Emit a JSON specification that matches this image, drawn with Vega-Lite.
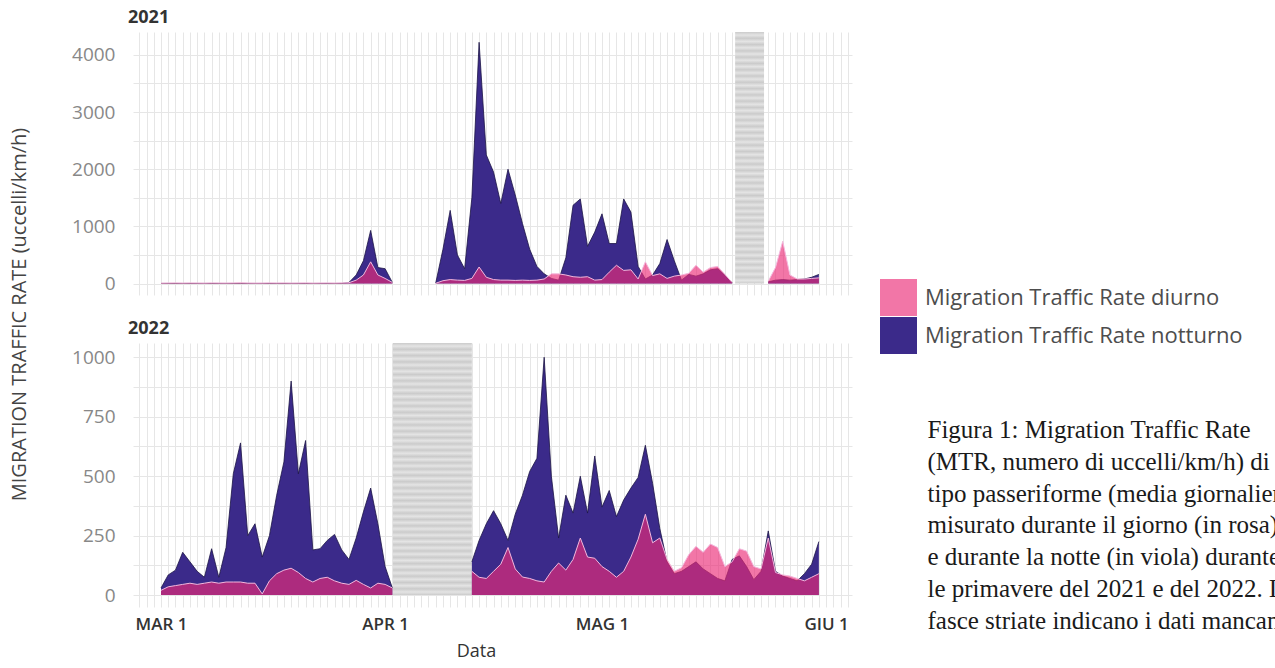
{
  "$schema": "https://vega.github.io/schema/vega-lite/v6.json",
  "padding": {"left": 9, "top": 9, "right": 0, "bottom": 0},
  "background": "white",
  "config": {
    "font": "Open Sans",
    "view": {"stroke": null},
    "axis": {"domain": false, "ticks": false, "gridColor": "#e6e6e6", "gridWidth": 1, "labelFont": "Open Sans", "titleFont": "Open Sans"}
  },
  "datasets": {
    "y2021": [
      {"data":"2021-03-01","notturno":2,"diurno":8},
      {"data":"2021-03-02","notturno":2,"diurno":10},
      {"data":"2021-03-03","notturno":2,"diurno":12},
      {"data":"2021-03-04","notturno":2,"diurno":9},
      {"data":"2021-03-05","notturno":2,"diurno":11},
      {"data":"2021-03-06","notturno":2,"diurno":10},
      {"data":"2021-03-07","notturno":2,"diurno":8},
      {"data":"2021-03-08","notturno":2,"diurno":12},
      {"data":"2021-03-09","notturno":2,"diurno":10},
      {"data":"2021-03-10","notturno":2,"diurno":9},
      {"data":"2021-03-11","notturno":2,"diurno":11},
      {"data":"2021-03-12","notturno":2,"diurno":13},
      {"data":"2021-03-13","notturno":2,"diurno":10},
      {"data":"2021-03-14","notturno":2,"diurno":8},
      {"data":"2021-03-15","notturno":2,"diurno":9},
      {"data":"2021-03-16","notturno":2,"diurno":12},
      {"data":"2021-03-17","notturno":2,"diurno":10},
      {"data":"2021-03-18","notturno":2,"diurno":11},
      {"data":"2021-03-19","notturno":2,"diurno":9},
      {"data":"2021-03-20","notturno":2,"diurno":10},
      {"data":"2021-03-21","notturno":2,"diurno":12},
      {"data":"2021-03-22","notturno":2,"diurno":8},
      {"data":"2021-03-23","notturno":2,"diurno":10},
      {"data":"2021-03-24","notturno":2,"diurno":11},
      {"data":"2021-03-25","notturno":2,"diurno":9},
      {"data":"2021-03-26","notturno":3,"diurno":12},
      {"data":"2021-03-27","notturno":20,"diurno":15},
      {"data":"2021-03-28","notturno":150,"diurno":60},
      {"data":"2021-03-29","notturno":400,"diurno":150},
      {"data":"2021-03-30","notturno":930,"diurno":380},
      {"data":"2021-03-31","notturno":280,"diurno":150},
      {"data":"2021-04-01","notturno":260,"diurno":90},
      {"data":"2021-04-02","notturno":20,"diurno":20},
      {"data":"2021-04-03","notturno":null,"diurno":null},
      {"data":"2021-04-04","notturno":null,"diurno":null},
      {"data":"2021-04-05","notturno":null,"diurno":null},
      {"data":"2021-04-06","notturno":null,"diurno":null},
      {"data":"2021-04-07","notturno":null,"diurno":null},
      {"data":"2021-04-08","notturno":10,"diurno":5},
      {"data":"2021-04-09","notturno":600,"diurno":50},
      {"data":"2021-04-10","notturno":1280,"diurno":70},
      {"data":"2021-04-11","notturno":500,"diurno":60},
      {"data":"2021-04-12","notturno":260,"diurno":55},
      {"data":"2021-04-13","notturno":1500,"diurno":90},
      {"data":"2021-04-14","notturno":4220,"diurno":290},
      {"data":"2021-04-15","notturno":2250,"diurno":110},
      {"data":"2021-04-16","notturno":1950,"diurno":70},
      {"data":"2021-04-17","notturno":1400,"diurno":60},
      {"data":"2021-04-18","notturno":2000,"diurno":60},
      {"data":"2021-04-19","notturno":1550,"diurno":55},
      {"data":"2021-04-20","notturno":1050,"diurno":60},
      {"data":"2021-04-21","notturno":600,"diurno":55},
      {"data":"2021-04-22","notturno":300,"diurno":60},
      {"data":"2021-04-23","notturno":170,"diurno":80},
      {"data":"2021-04-24","notturno":90,"diurno":170},
      {"data":"2021-04-25","notturno":60,"diurno":170},
      {"data":"2021-04-26","notturno":450,"diurno":150},
      {"data":"2021-04-27","notturno":1370,"diurno":120},
      {"data":"2021-04-28","notturno":1480,"diurno":110},
      {"data":"2021-04-29","notturno":650,"diurno":120},
      {"data":"2021-04-30","notturno":900,"diurno":60},
      {"data":"2021-05-01","notturno":1220,"diurno":70},
      {"data":"2021-05-02","notturno":700,"diurno":200},
      {"data":"2021-05-03","notturno":700,"diurno":320},
      {"data":"2021-05-04","notturno":1480,"diurno":230},
      {"data":"2021-05-05","notturno":1250,"diurno":240},
      {"data":"2021-05-06","notturno":300,"diurno":80},
      {"data":"2021-05-07","notturno":80,"diurno":380},
      {"data":"2021-05-08","notturno":150,"diurno":140},
      {"data":"2021-05-09","notturno":350,"diurno":170},
      {"data":"2021-05-10","notturno":770,"diurno":90},
      {"data":"2021-05-11","notturno":400,"diurno":130},
      {"data":"2021-05-12","notturno":60,"diurno":150},
      {"data":"2021-05-13","notturno":160,"diurno":180},
      {"data":"2021-05-14","notturno":130,"diurno":320},
      {"data":"2021-05-15","notturno":170,"diurno":200},
      {"data":"2021-05-16","notturno":240,"diurno":280},
      {"data":"2021-05-17","notturno":260,"diurno":300},
      {"data":"2021-05-18","notturno":150,"diurno":160},
      {"data":"2021-05-19","notturno":20,"diurno":20},
      {"data":"2021-05-20","notturno":null,"diurno":null},
      {"data":"2021-05-21","notturno":null,"diurno":null},
      {"data":"2021-05-22","notturno":null,"diurno":null},
      {"data":"2021-05-23","notturno":null,"diurno":null},
      {"data":"2021-05-24","notturno":30,"diurno":40},
      {"data":"2021-05-25","notturno":60,"diurno":280},
      {"data":"2021-05-26","notturno":70,"diurno":740},
      {"data":"2021-05-27","notturno":60,"diurno":150},
      {"data":"2021-05-28","notturno":70,"diurno":80},
      {"data":"2021-05-29","notturno":80,"diurno":80},
      {"data":"2021-05-30","notturno":110,"diurno":90},
      {"data":"2021-05-31","notturno":160,"diurno":100}
    ],
    "y2022": [
      {"data":"2022-03-01","notturno":30,"diurno":20},
      {"data":"2022-03-02","notturno":85,"diurno":35},
      {"data":"2022-03-03","notturno":105,"diurno":40},
      {"data":"2022-03-04","notturno":180,"diurno":45},
      {"data":"2022-03-05","notturno":140,"diurno":50},
      {"data":"2022-03-06","notturno":100,"diurno":45},
      {"data":"2022-03-07","notturno":75,"diurno":50},
      {"data":"2022-03-08","notturno":195,"diurno":55},
      {"data":"2022-03-09","notturno":75,"diurno":50},
      {"data":"2022-03-10","notturno":200,"diurno":55},
      {"data":"2022-03-11","notturno":510,"diurno":55},
      {"data":"2022-03-12","notturno":640,"diurno":55},
      {"data":"2022-03-13","notturno":250,"diurno":50},
      {"data":"2022-03-14","notturno":300,"diurno":50},
      {"data":"2022-03-15","notturno":160,"diurno":5},
      {"data":"2022-03-16","notturno":250,"diurno":60},
      {"data":"2022-03-17","notturno":420,"diurno":90},
      {"data":"2022-03-18","notturno":560,"diurno":105},
      {"data":"2022-03-19","notturno":900,"diurno":113},
      {"data":"2022-03-20","notturno":510,"diurno":95},
      {"data":"2022-03-21","notturno":650,"diurno":70},
      {"data":"2022-03-22","notturno":190,"diurno":55},
      {"data":"2022-03-23","notturno":195,"diurno":70},
      {"data":"2022-03-24","notturno":230,"diurno":75},
      {"data":"2022-03-25","notturno":255,"diurno":60},
      {"data":"2022-03-26","notturno":190,"diurno":50},
      {"data":"2022-03-27","notturno":150,"diurno":45},
      {"data":"2022-03-28","notturno":240,"diurno":62},
      {"data":"2022-03-29","notturno":350,"diurno":45},
      {"data":"2022-03-30","notturno":450,"diurno":30},
      {"data":"2022-03-31","notturno":300,"diurno":50},
      {"data":"2022-04-01","notturno":120,"diurno":45},
      {"data":"2022-04-02","notturno":30,"diurno":30},
      {"data":"2022-04-03","notturno":null,"diurno":null},
      {"data":"2022-04-04","notturno":null,"diurno":null},
      {"data":"2022-04-05","notturno":null,"diurno":null},
      {"data":"2022-04-06","notturno":null,"diurno":null},
      {"data":"2022-04-07","notturno":null,"diurno":null},
      {"data":"2022-04-08","notturno":null,"diurno":null},
      {"data":"2022-04-09","notturno":null,"diurno":null},
      {"data":"2022-04-10","notturno":null,"diurno":null},
      {"data":"2022-04-11","notturno":null,"diurno":null},
      {"data":"2022-04-12","notturno":null,"diurno":null},
      {"data":"2022-04-13","notturno":140,"diurno":100},
      {"data":"2022-04-14","notturno":230,"diurno":75},
      {"data":"2022-04-15","notturno":300,"diurno":70},
      {"data":"2022-04-16","notturno":355,"diurno":100},
      {"data":"2022-04-17","notturno":300,"diurno":130},
      {"data":"2022-04-18","notturno":230,"diurno":200},
      {"data":"2022-04-19","notturno":340,"diurno":110},
      {"data":"2022-04-20","notturno":420,"diurno":76},
      {"data":"2022-04-21","notturno":520,"diurno":70},
      {"data":"2022-04-22","notturno":575,"diurno":60},
      {"data":"2022-04-23","notturno":1000,"diurno":55},
      {"data":"2022-04-24","notturno":500,"diurno":100},
      {"data":"2022-04-25","notturno":240,"diurno":135},
      {"data":"2022-04-26","notturno":420,"diurno":105},
      {"data":"2022-04-27","notturno":345,"diurno":150},
      {"data":"2022-04-28","notturno":500,"diurno":240},
      {"data":"2022-04-29","notturno":345,"diurno":160},
      {"data":"2022-04-30","notturno":585,"diurno":155},
      {"data":"2022-05-01","notturno":370,"diurno":120},
      {"data":"2022-05-02","notturno":440,"diurno":100},
      {"data":"2022-05-03","notturno":330,"diurno":75},
      {"data":"2022-05-04","notturno":400,"diurno":100},
      {"data":"2022-05-05","notturno":450,"diurno":160},
      {"data":"2022-05-06","notturno":495,"diurno":235},
      {"data":"2022-05-07","notturno":630,"diurno":340},
      {"data":"2022-05-08","notturno":470,"diurno":220},
      {"data":"2022-05-09","notturno":280,"diurno":240},
      {"data":"2022-05-10","notturno":140,"diurno":150},
      {"data":"2022-05-11","notturno":90,"diurno":100},
      {"data":"2022-05-12","notturno":100,"diurno":115},
      {"data":"2022-05-13","notturno":120,"diurno":170},
      {"data":"2022-05-14","notturno":140,"diurno":205},
      {"data":"2022-05-15","notturno":110,"diurno":180},
      {"data":"2022-05-16","notturno":90,"diurno":215},
      {"data":"2022-05-17","notturno":70,"diurno":200},
      {"data":"2022-05-18","notturno":60,"diurno":120},
      {"data":"2022-05-19","notturno":150,"diurno":140},
      {"data":"2022-05-20","notturno":165,"diurno":195},
      {"data":"2022-05-21","notturno":120,"diurno":185},
      {"data":"2022-05-22","notturno":65,"diurno":120},
      {"data":"2022-05-23","notturno":100,"diurno":110},
      {"data":"2022-05-24","notturno":270,"diurno":240},
      {"data":"2022-05-25","notturno":100,"diurno":95},
      {"data":"2022-05-26","notturno":80,"diurno":85},
      {"data":"2022-05-27","notturno":70,"diurno":80},
      {"data":"2022-05-28","notturno":60,"diurno":70},
      {"data":"2022-05-29","notturno":90,"diurno":60},
      {"data":"2022-05-30","notturno":130,"diurno":75},
      {"data":"2022-05-31","notturno":225,"diurno":90}
    ],
    "mancanti2021": [
      {"data":"2021-05-19T10:00:00Z","data_fine":"2021-05-23T10:00:00Z","mtr":0,"mtr_alto":4400}
    ],
    "mancanti2022": [
      {"data":"2022-04-02T02:00:00Z","data_fine":"2022-04-13T00:00:00Z","mtr":0,"mtr_alto":1060}
    ],
    "didascalia": [
      {"riga":1,"testo":"Figura 1: Migration Traffic Rate"},
      {"riga":2,"testo":"(MTR, numero di uccelli/km/h) di"},
      {"riga":3,"testo":"tipo passeriforme (media giornaliera)"},
      {"riga":4,"testo":"misurato durante il giorno (in rosa)"},
      {"riga":5,"testo":"e durante la notte (in viola) durante"},
      {"riga":6,"testo":"le primavere del 2021 e del 2022. Le"},
      {"riga":7,"testo":"fasce striate indicano i dati mancanti."}
    ]
  },
  "hconcat": [
    {
      "vconcat": [
        {
          "width": 719,
          "height": 263,
          "title": {"text": "2021", "anchor": "start", "frame": "group", "dx": -5, "offset": 5, "fontSize": 18, "fontWeight": "bold", "color": "#333333", "font": "Open Sans"},
          "encoding": {
            "x": {"field": "data", "type": "temporal",
              "scale": {"type": "utc", "domain": [{"year": 2021, "month": 2, "date": 25, "hours": 3, "utc": true}, {"year": 2021, "month": 6, "date": 4, "hours": 14, "utc": true}]},
              "axis": {"title": null, "labels": false, "grid": true, "tickCount": {"interval": "day", "step": 1}}},
            "y": {"field": "mtr", "type": "quantitative",
              "scale": {"domain": [-200, 4400], "nice": false, "zero": false},
              "axis": {"title": "MIGRATION TRAFFIC RATE (uccelli/km/h)", "titleX": -104, "titleY": 282, "titleFontSize": 20, "titleColor": "#444444", "titleFontWeight": 500, "values": [0, 500, 1000, 1500, 2000, 2500, 3000, 3500, 4000], "format": "d", "labelExpr": "datum.value % 1000 == 0 ? datum.label : ''", "labelFontSize": 19, "labelColor": "#888888", "labelPadding": 18, "grid": true}}
          },
          "layer": [
            {"data": {"name": "mancanti2021"}, "mark": {"type": "rect", "color": {"gradient": "linear", "x1": 0, "y1": 0, "x2": 0, "y2": 1, "stops": [
              {"offset": 0, "color": "#cbcbcb"}, {"offset": 0.0125, "color": "#e4e4e4"}, {"offset": 0.025, "color": "#cbcbcb"}, {"offset": 0.0375, "color": "#e4e4e4"}, {"offset": 0.05, "color": "#cbcbcb"}, {"offset": 0.0625, "color": "#e4e4e4"}, {"offset": 0.075, "color": "#cbcbcb"}, {"offset": 0.0875, "color": "#e4e4e4"}, {"offset": 0.1, "color": "#cbcbcb"}, {"offset": 0.1125, "color": "#e4e4e4"},
              {"offset": 0.125, "color": "#cbcbcb"}, {"offset": 0.1375, "color": "#e4e4e4"}, {"offset": 0.15, "color": "#cbcbcb"}, {"offset": 0.1625, "color": "#e4e4e4"}, {"offset": 0.175, "color": "#cbcbcb"}, {"offset": 0.1875, "color": "#e4e4e4"}, {"offset": 0.2, "color": "#cbcbcb"}, {"offset": 0.2125, "color": "#e4e4e4"}, {"offset": 0.225, "color": "#cbcbcb"}, {"offset": 0.2375, "color": "#e4e4e4"},
              {"offset": 0.25, "color": "#cbcbcb"}, {"offset": 0.2625, "color": "#e4e4e4"}, {"offset": 0.275, "color": "#cbcbcb"}, {"offset": 0.2875, "color": "#e4e4e4"}, {"offset": 0.3, "color": "#cbcbcb"}, {"offset": 0.3125, "color": "#e4e4e4"}, {"offset": 0.325, "color": "#cbcbcb"}, {"offset": 0.3375, "color": "#e4e4e4"}, {"offset": 0.35, "color": "#cbcbcb"}, {"offset": 0.3625, "color": "#e4e4e4"},
              {"offset": 0.375, "color": "#cbcbcb"}, {"offset": 0.3875, "color": "#e4e4e4"}, {"offset": 0.4, "color": "#cbcbcb"}, {"offset": 0.4125, "color": "#e4e4e4"}, {"offset": 0.425, "color": "#cbcbcb"}, {"offset": 0.4375, "color": "#e4e4e4"}, {"offset": 0.45, "color": "#cbcbcb"}, {"offset": 0.4625, "color": "#e4e4e4"}, {"offset": 0.475, "color": "#cbcbcb"}, {"offset": 0.4875, "color": "#e4e4e4"},
              {"offset": 0.5, "color": "#cbcbcb"}, {"offset": 0.5125, "color": "#e4e4e4"}, {"offset": 0.525, "color": "#cbcbcb"}, {"offset": 0.5375, "color": "#e4e4e4"}, {"offset": 0.55, "color": "#cbcbcb"}, {"offset": 0.5625, "color": "#e4e4e4"}, {"offset": 0.575, "color": "#cbcbcb"}, {"offset": 0.5875, "color": "#e4e4e4"}, {"offset": 0.6, "color": "#cbcbcb"}, {"offset": 0.6125, "color": "#e4e4e4"},
              {"offset": 0.625, "color": "#cbcbcb"}, {"offset": 0.6375, "color": "#e4e4e4"}, {"offset": 0.65, "color": "#cbcbcb"}, {"offset": 0.6625, "color": "#e4e4e4"}, {"offset": 0.675, "color": "#cbcbcb"}, {"offset": 0.6875, "color": "#e4e4e4"}, {"offset": 0.7, "color": "#cbcbcb"}, {"offset": 0.7125, "color": "#e4e4e4"}, {"offset": 0.725, "color": "#cbcbcb"}, {"offset": 0.7375, "color": "#e4e4e4"},
              {"offset": 0.75, "color": "#cbcbcb"}, {"offset": 0.7625, "color": "#e4e4e4"}, {"offset": 0.775, "color": "#cbcbcb"}, {"offset": 0.7875, "color": "#e4e4e4"}, {"offset": 0.8, "color": "#cbcbcb"}, {"offset": 0.8125, "color": "#e4e4e4"}, {"offset": 0.825, "color": "#cbcbcb"}, {"offset": 0.8375, "color": "#e4e4e4"}, {"offset": 0.85, "color": "#cbcbcb"}, {"offset": 0.8625, "color": "#e4e4e4"},
              {"offset": 0.875, "color": "#cbcbcb"}, {"offset": 0.8875, "color": "#e4e4e4"}, {"offset": 0.9, "color": "#cbcbcb"}, {"offset": 0.9125, "color": "#e4e4e4"}, {"offset": 0.925, "color": "#cbcbcb"}, {"offset": 0.9375, "color": "#e4e4e4"}, {"offset": 0.95, "color": "#cbcbcb"}, {"offset": 0.9625, "color": "#e4e4e4"}, {"offset": 0.975, "color": "#cbcbcb"}, {"offset": 0.9875, "color": "#e4e4e4"}, {"offset": 1, "color": "#cbcbcb"}
            ]}}, "encoding": {"x2": {"field": "data_fine"}, "y2": {"field": "mtr_alto"}}},
            {"data": {"name": "y2021"}, "transform": [{"fold": ["notturno", "diurno"], "as": ["serie", "mtr"]}],
              "layer": [
                {"transform": [{"filter": "datum.serie == 'notturno'"}], "mark": {"type": "area", "invalid": "break-paths-show-domains"},
                  "encoding": {
                    "color": {"field": "serie", "type": "nominal", "scale": {"domain": ["diurno", "notturno"], "range": ["#eb2d78", "#3b2a8a"]}, "legend": {"orient": "none", "legendX": 747, "legendY": 247, "title": null, "symbolType": "square", "symbolSize": 1369, "symbolStrokeWidth": 0, "labelFontSize": 22, "labelFontWeight": 500, "labelColor": "#4d4d4d", "labelFont": "Open Sans", "labelOffset": 8, "labelLimit": 600, "rowPadding": 1, "padding": 0, "labelExpr": "'Migration Traffic Rate ' + datum.label"}},
                    "opacity": {"field": "serie", "type": "nominal", "scale": {"domain": ["diurno", "notturno"], "range": [0.65, 1]}, "legend": {"orient": "none", "legendX": 747, "legendY": 247, "title": null, "symbolType": "square", "symbolSize": 1369, "symbolStrokeWidth": 0, "labelFontSize": 22, "labelFontWeight": 500, "labelColor": "#4d4d4d", "labelFont": "Open Sans", "labelOffset": 8, "labelLimit": 600, "rowPadding": 1, "padding": 0, "labelExpr": "'Migration Traffic Rate ' + datum.label"}}
                  }},
                {"transform": [{"filter": "datum.serie == 'notturno'"}], "mark": {"type": "line", "strokeWidth": 0.8, "invalid": "break-paths-show-domains"}, "encoding": {"color": {"value": "#1c1445"}}},
                {"transform": [{"filter": "datum.serie == 'diurno'"}], "mark": {"type": "area", "invalid": "break-paths-show-domains"},
                  "encoding": {
                    "color": {"field": "serie", "type": "nominal"},
                    "opacity": {"field": "serie", "type": "nominal"}
                  }},
                {"transform": [{"filter": "datum.serie == 'diurno'"}], "mark": {"type": "line", "strokeWidth": 1, "invalid": "break-paths-show-domains"}, "encoding": {"color": {"value": "#f3b8dd"}}}
              ]}
          ]
        },
        {
          "width": 719,
          "height": 264,
          "title": {"text": "2022", "anchor": "start", "frame": "group", "dx": -5, "offset": 5, "fontSize": 18, "fontWeight": "bold", "color": "#333333", "font": "Open Sans"},
          "encoding": {
            "x": {"field": "data", "type": "temporal",
              "scale": {"type": "utc", "domain": [{"year": 2022, "month": 2, "date": 25, "hours": 3, "utc": true}, {"year": 2022, "month": 6, "date": 4, "hours": 14, "utc": true}]},
              "axis": {"title": "Data", "titleX": 343, "titleFontSize": 18, "titleColor": "#333333", "titleFontWeight": 500, "titlePadding": 10, "grid": true, "tickCount": {"interval": "day", "step": 1}, "labelOverlap": false, "labelExpr": "utcdate(datum.value) == 1 ? ['GEN','FEB','MAR','APR','MAG','GIU','LUG','AGO','SET','OTT','NOV','DIC'][utcmonth(datum.value)] + ' 1' : ''", "labelFontSize": 17, "labelColor": "#333333", "labelFontWeight": 600, "labelPadding": 9}},
            "y": {"field": "mtr", "type": "quantitative",
              "scale": {"domain": [-50, 1060], "nice": false, "zero": false},
              "axis": {"title": null, "values": [0, 125, 250, 375, 500, 625, 750, 875, 1000], "format": "d", "labelExpr": "datum.value % 250 == 0 ? datum.label : ''", "labelFontSize": 19, "labelColor": "#888888", "labelPadding": 18, "grid": true}}
          },
          "layer": [
            {"data": {"name": "mancanti2022"}, "mark": {"type": "rect", "color": {"gradient": "linear", "x1": 0, "y1": 0, "x2": 0, "y2": 1, "stops": [
              {"offset": 0, "color": "#cbcbcb"}, {"offset": 0.0125, "color": "#e4e4e4"}, {"offset": 0.025, "color": "#cbcbcb"}, {"offset": 0.0375, "color": "#e4e4e4"}, {"offset": 0.05, "color": "#cbcbcb"}, {"offset": 0.0625, "color": "#e4e4e4"}, {"offset": 0.075, "color": "#cbcbcb"}, {"offset": 0.0875, "color": "#e4e4e4"}, {"offset": 0.1, "color": "#cbcbcb"}, {"offset": 0.1125, "color": "#e4e4e4"},
              {"offset": 0.125, "color": "#cbcbcb"}, {"offset": 0.1375, "color": "#e4e4e4"}, {"offset": 0.15, "color": "#cbcbcb"}, {"offset": 0.1625, "color": "#e4e4e4"}, {"offset": 0.175, "color": "#cbcbcb"}, {"offset": 0.1875, "color": "#e4e4e4"}, {"offset": 0.2, "color": "#cbcbcb"}, {"offset": 0.2125, "color": "#e4e4e4"}, {"offset": 0.225, "color": "#cbcbcb"}, {"offset": 0.2375, "color": "#e4e4e4"},
              {"offset": 0.25, "color": "#cbcbcb"}, {"offset": 0.2625, "color": "#e4e4e4"}, {"offset": 0.275, "color": "#cbcbcb"}, {"offset": 0.2875, "color": "#e4e4e4"}, {"offset": 0.3, "color": "#cbcbcb"}, {"offset": 0.3125, "color": "#e4e4e4"}, {"offset": 0.325, "color": "#cbcbcb"}, {"offset": 0.3375, "color": "#e4e4e4"}, {"offset": 0.35, "color": "#cbcbcb"}, {"offset": 0.3625, "color": "#e4e4e4"},
              {"offset": 0.375, "color": "#cbcbcb"}, {"offset": 0.3875, "color": "#e4e4e4"}, {"offset": 0.4, "color": "#cbcbcb"}, {"offset": 0.4125, "color": "#e4e4e4"}, {"offset": 0.425, "color": "#cbcbcb"}, {"offset": 0.4375, "color": "#e4e4e4"}, {"offset": 0.45, "color": "#cbcbcb"}, {"offset": 0.4625, "color": "#e4e4e4"}, {"offset": 0.475, "color": "#cbcbcb"}, {"offset": 0.4875, "color": "#e4e4e4"},
              {"offset": 0.5, "color": "#cbcbcb"}, {"offset": 0.5125, "color": "#e4e4e4"}, {"offset": 0.525, "color": "#cbcbcb"}, {"offset": 0.5375, "color": "#e4e4e4"}, {"offset": 0.55, "color": "#cbcbcb"}, {"offset": 0.5625, "color": "#e4e4e4"}, {"offset": 0.575, "color": "#cbcbcb"}, {"offset": 0.5875, "color": "#e4e4e4"}, {"offset": 0.6, "color": "#cbcbcb"}, {"offset": 0.6125, "color": "#e4e4e4"},
              {"offset": 0.625, "color": "#cbcbcb"}, {"offset": 0.6375, "color": "#e4e4e4"}, {"offset": 0.65, "color": "#cbcbcb"}, {"offset": 0.6625, "color": "#e4e4e4"}, {"offset": 0.675, "color": "#cbcbcb"}, {"offset": 0.6875, "color": "#e4e4e4"}, {"offset": 0.7, "color": "#cbcbcb"}, {"offset": 0.7125, "color": "#e4e4e4"}, {"offset": 0.725, "color": "#cbcbcb"}, {"offset": 0.7375, "color": "#e4e4e4"},
              {"offset": 0.75, "color": "#cbcbcb"}, {"offset": 0.7625, "color": "#e4e4e4"}, {"offset": 0.775, "color": "#cbcbcb"}, {"offset": 0.7875, "color": "#e4e4e4"}, {"offset": 0.8, "color": "#cbcbcb"}, {"offset": 0.8125, "color": "#e4e4e4"}, {"offset": 0.825, "color": "#cbcbcb"}, {"offset": 0.8375, "color": "#e4e4e4"}, {"offset": 0.85, "color": "#cbcbcb"}, {"offset": 0.8625, "color": "#e4e4e4"},
              {"offset": 0.875, "color": "#cbcbcb"}, {"offset": 0.8875, "color": "#e4e4e4"}, {"offset": 0.9, "color": "#cbcbcb"}, {"offset": 0.9125, "color": "#e4e4e4"}, {"offset": 0.925, "color": "#cbcbcb"}, {"offset": 0.9375, "color": "#e4e4e4"}, {"offset": 0.95, "color": "#cbcbcb"}, {"offset": 0.9625, "color": "#e4e4e4"}, {"offset": 0.975, "color": "#cbcbcb"}, {"offset": 0.9875, "color": "#e4e4e4"}, {"offset": 1, "color": "#cbcbcb"}
            ]}}, "encoding": {"x2": {"field": "data_fine"}, "y2": {"field": "mtr_alto"}}},
            {"data": {"name": "y2022"}, "transform": [{"fold": ["notturno", "diurno"], "as": ["serie", "mtr"]}],
              "layer": [
                {"transform": [{"filter": "datum.serie == 'notturno'"}], "mark": {"type": "area", "invalid": "break-paths-show-domains"},
                  "encoding": {
                    "color": {"field": "serie", "type": "nominal"},
                    "opacity": {"field": "serie", "type": "nominal"}
                  }},
                {"transform": [{"filter": "datum.serie == 'notturno'"}], "mark": {"type": "line", "strokeWidth": 0.8, "invalid": "break-paths-show-domains"}, "encoding": {"color": {"value": "#1c1445"}}},
                {"transform": [{"filter": "datum.serie == 'diurno'"}], "mark": {"type": "area", "invalid": "break-paths-show-domains"},
                  "encoding": {
                    "color": {"field": "serie", "type": "nominal"},
                    "opacity": {"field": "serie", "type": "nominal"}
                  }},
                {"transform": [{"filter": "datum.serie == 'diurno'"}], "mark": {"type": "line", "strokeWidth": 1, "invalid": "break-paths-show-domains"}, "encoding": {"color": {"value": "#f3b8dd"}}}
              ]}
          ]
        }
      ],
      "spacing": 48,
      "bounds": "flush"
    },
    {
      "data": {"name": "didascalia"},
      "width": 1,
      "height": 640,
      "mark": {"type": "text", "align": "left", "baseline": "middle", "font": "Liberation Serif", "fontSize": 25, "color": "#1a1a1a"},
      "encoding": {
        "y": {"field": "riga", "type": "quantitative", "scale": {"domain": [8.613, -11.517], "nice": false, "zero": false}, "axis": null},
        "text": {"field": "testo"}
      }
    }
  ],
  "spacing": 75
}
